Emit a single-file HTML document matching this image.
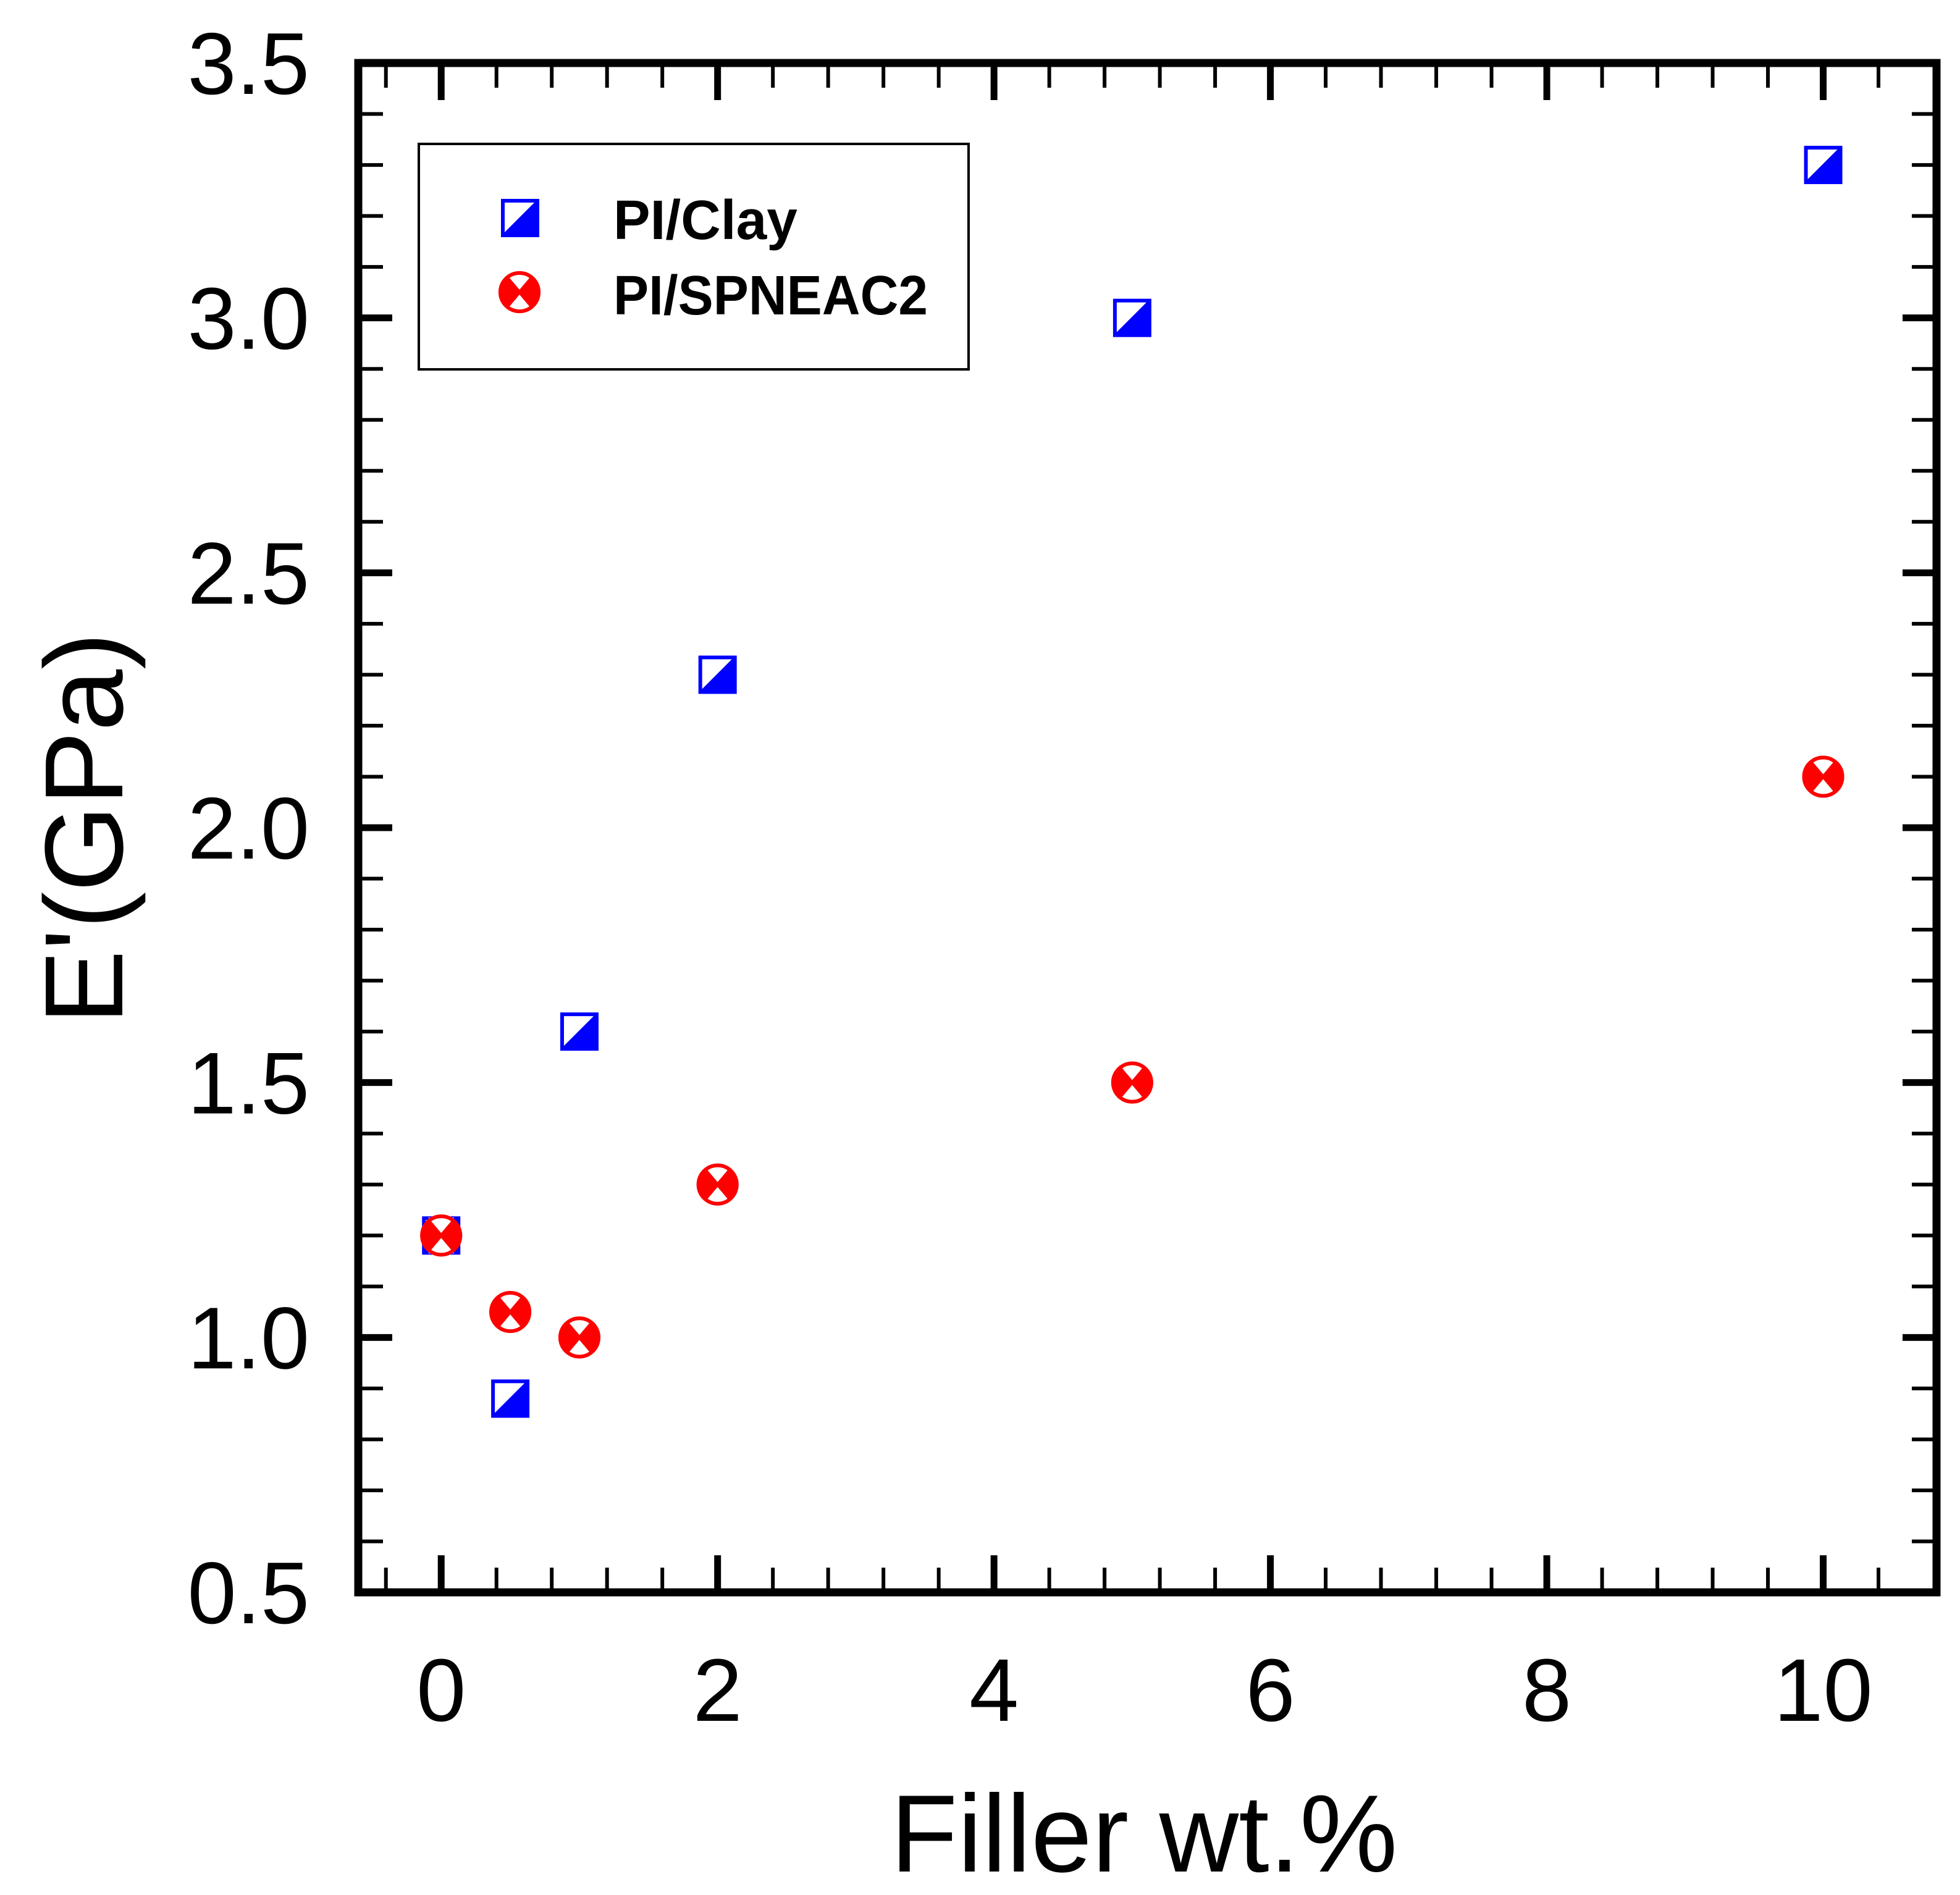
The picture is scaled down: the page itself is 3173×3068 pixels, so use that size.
<!DOCTYPE html>
<html><head><meta charset="utf-8"><style>
html,body{margin:0;padding:0;background:#fff;}
svg{display:block;font-family:"Liberation Sans",Arial,sans-serif;}
</style></head><body>
<svg id="chart" width="3173" height="3068" viewBox="0 0 3173 3068" xmlns="http://www.w3.org/2000/svg">
<g id="ticks"></g>
<g id="labels"></g>
<rect x="580" y="102" width="2555" height="2476" fill="none" stroke="#000" stroke-width="13"/>
<g id="marks"></g>
<text x="1852" y="3030" font-size="178" text-anchor="middle">Filler wt.%</text>
<text transform="translate(198,1341) rotate(-90)" font-size="180" text-anchor="middle">E'(GPa)</text>
<g>
<rect x="678" y="233" width="890" height="365" fill="#fff" stroke="#000" stroke-width="4"/>
<g id="leg1"></g>
<text x="993" y="387" font-size="90" font-weight="bold" textLength="298" lengthAdjust="spacingAndGlyphs">PI/Clay</text>
<g id="leg2"></g>
<text x="993" y="509" font-size="90" font-weight="bold" textLength="509" lengthAdjust="spacingAndGlyphs">PI/SPNEAC2</text>
</g>
</svg>
<script>
const xCats = [0, 0.5, 1, 2, 5, 10];
const clayVals = [1.2, 0.88, 1.6, 2.3, 3.0, 3.3];
const spneacVals = [1.2, 1.05, 1.0, 1.3, 1.5, 2.1];
const xTickLabels = ["0", "2", "4", "6", "8", "10"];
const yTickLabels = ["0.5", "1.0", "1.5", "2.0", "2.5", "3.0", "3.5"];

const X0 = 580, X1 = 3135, Y0 = 2578, Y1 = 102;
const XMIN = -0.6, XMAX = 10.82, YMIN = 0.5, YMAX = 3.5;
function sx(v){ return X0 + (v - XMIN) / (XMAX - XMIN) * (X1 - X0); }
function sy(v){ return Y0 - (v - YMIN) / (YMAX - YMIN) * (Y0 - Y1); }
const NS = "http://www.w3.org/2000/svg";
function mk(tag, attrs, parent){
  const e = document.createElementNS(NS, tag);
  for (const k in attrs) e.setAttribute(k, attrs[k]);
  parent.appendChild(e);
  return e;
}
const ticks = document.getElementById('ticks');
const labels = document.getElementById('labels');
for (let i = -1; i <= 26; i++) {
  const v = i * 0.4;
  if (v < XMIN || v > XMAX) continue;
  const major = (i % 5 === 0);
  const len = major ? 60 : 40, w = major ? 11 : 6;
  const x = sx(v);
  const t1 = mk('line', {x1:x, x2:x, y1:Y0, y2:Y0-len, stroke:'#000', 'stroke-width':w}, ticks);
  
  
  const t2 = mk('line', {x1:x, x2:x, y1:Y1, y2:Y1+len, stroke:'#000', 'stroke-width':w}, ticks);
  
  
}
xTickLabels.forEach(s => {
  const t = mk('text', {x:sx(parseFloat(s)), y:2786, 'font-size':144, 'text-anchor':'middle'}, labels);
  t.textContent = s;
  
  
});
for (let i = 5; i <= 35; i++) {
  const v = i / 10;
  const major = (i % 5 === 0);
  const len = major ? 55 : 40, w = major ? 11 : 6;
  const y = sy(v);
  const t1 = mk('line', {x1:X0, x2:X0+len, y1:y, y2:y, stroke:'#000', 'stroke-width':w}, ticks);
  
  
  const t2 = mk('line', {x1:X1, x2:X1-len, y1:y, y2:y, stroke:'#000', 'stroke-width':w}, ticks);
  
  
}
yTickLabels.forEach(s => {
  const t = mk('text', {x:501, y:sy(parseFloat(s))+50, 'font-size':142, 'text-anchor':'end'}, labels);
  t.textContent = s;
  
  
});
function square(parent, cx, cy){
  const g = mk('g', {}, parent);
  const h = 31;
  mk('rect', {x:cx-h, y:cy-h, width:2*h, height:2*h, fill:'#0000ff'}, g);
  mk('polygon', {points:`${cx-h+6},${cy-h+6} ${cx+h-8},${cy-h+6} ${cx-h+6},${cy+h-8}`, fill:'#fff'}, g);
  return g;
}
function circ(parent, cx, cy){
  const g = mk('g', {}, parent);
  const r = 34;
  mk('circle', {cx:cx, cy:cy, r:r, fill:'#ff0000'}, g);
  const a = 0.62*r;
  mk('polygon', {points:`${cx-a},${cy-r+5} ${cx+a},${cy-r+5} ${cx},${cy-4}`, fill:'#fff'}, g);
  mk('polygon', {points:`${cx-a},${cy+r-5} ${cx+a},${cy+r-5} ${cx},${cy+4}`, fill:'#fff'}, g);
  mk('circle', {cx:cx, cy:cy, r:r-3, fill:'none', stroke:'#ff0000', 'stroke-width':6}, g);
  return g;
}
const marks = document.getElementById('marks');
xCats.forEach((x, i) => {
  const g = square(marks, sx(x), sy(clayVals[i]));
  
  
});
xCats.forEach((x, i) => {
  const g = circ(marks, sx(x), sy(spneacVals[i]));
  
  
});
const l1 = square(document.getElementById('leg1'), 842, 353);


const l2 = circ(document.getElementById('leg2'), 841, 473);


</script>
</body></html>
